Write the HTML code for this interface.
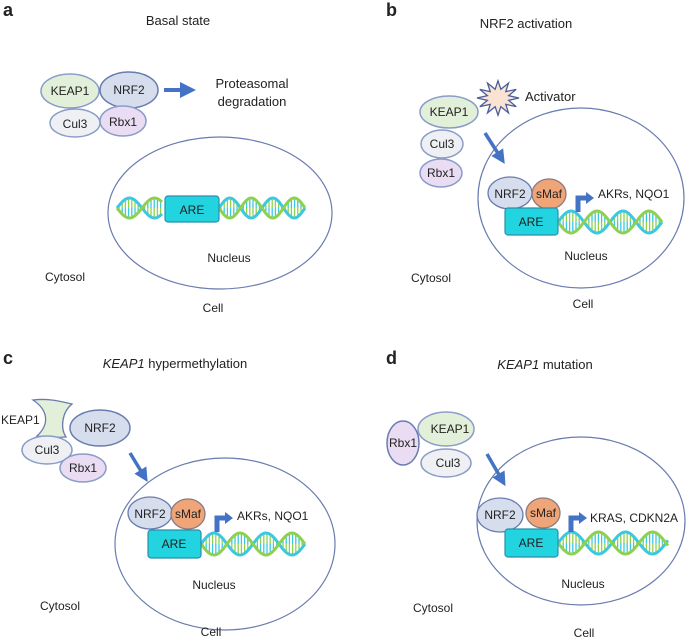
<!DOCTYPE html>
<html><head><meta charset="utf-8"><style>
body{margin:0;background:#fff}
svg{display:block;font-family:"Liberation Sans",Arial,sans-serif}
text{fill:#222}
</style></head><body>
<svg id="s" width="686" height="638" viewBox="0 0 686 638" xmlns="http://www.w3.org/2000/svg">
<defs>
<marker id="ah" markerWidth="4" markerHeight="4" refX="2" refY="2" orient="auto"><path d="M0,0L4,2L0,4Z" fill="#4472c4"/></marker>
</defs>
<!-- Panel A -->
<g>
<text x="3" y="16" font-size="18" font-weight="bold">a</text>
<text x="178" y="25" font-size="13" text-anchor="middle">Basal state</text>
<ellipse cx="220" cy="213" rx="112" ry="76" fill="#fff" stroke="#6a7bb0" stroke-width="1.2"/>
<ellipse cx="70" cy="91" rx="29" ry="17" fill="#e2efd9" stroke="#8a9cc8" stroke-width="1.5"/>
<ellipse cx="129" cy="90" rx="29" ry="18" fill="#d6deee" stroke="#6a7bb0" stroke-width="1.5"/>
<ellipse cx="75" cy="123" rx="25" ry="14" fill="#eef0f4" stroke="#8a9cc8" stroke-width="1.5"/>
<ellipse cx="123" cy="121" rx="23" ry="15" fill="#e9dcf3" stroke="#8a9cc8" stroke-width="1.5"/>
<text x="70" y="95" font-size="12" text-anchor="middle">KEAP1</text>
<text x="129" y="94" font-size="12" text-anchor="middle">NRF2</text>
<text x="75" y="128" font-size="12" text-anchor="middle">Cul3</text>
<text x="123" y="126" font-size="12" text-anchor="middle">Rbx1</text>
<line x1="164" y1="90" x2="188" y2="90" stroke="#4472c4" stroke-width="4" marker-end="url(#ah)"/>
<text x="252" y="88" font-size="13" text-anchor="middle">Proteasomal</text>
<text x="252" y="106" font-size="13" text-anchor="middle">degradation</text>
<g id="dnaA1"></g><g id="dnaA2"></g>
<rect x="165" y="196" width="54" height="26" rx="3" fill="#22d3e0" stroke="#2b8fa8" stroke-width="1.2"/>
<text x="192" y="214" font-size="12" text-anchor="middle">ARE</text>
<text x="229" y="262" font-size="12" text-anchor="middle">Nucleus</text>
<text x="65" y="281" font-size="12" text-anchor="middle">Cytosol</text>
<text x="213" y="312" font-size="12" text-anchor="middle">Cell</text>
</g>
<!-- Panel B -->
<g>
<text x="386" y="16" font-size="18" font-weight="bold">b</text>
<text x="526" y="28" font-size="13" text-anchor="middle">NRF2 activation</text>
<ellipse cx="581" cy="198" rx="103" ry="90" fill="#fff" stroke="#6a7bb0" stroke-width="1.2"/>
<path id="star" d="" fill="#fbe3d3" stroke="#4a5f9a" stroke-width="1.3"/>
<text x="525" y="101" font-size="13">Activator</text>
<ellipse cx="449" cy="112" rx="29" ry="16" fill="#e2efd9" stroke="#8a9cc8" stroke-width="1.5"/>
<ellipse cx="442" cy="144" rx="21" ry="14" fill="#eef0f4" stroke="#8a9cc8" stroke-width="1.5"/>
<ellipse cx="441" cy="173" rx="21" ry="14" fill="#e9dcf3" stroke="#8a9cc8" stroke-width="1.5"/>
<text x="449" y="116" font-size="12" text-anchor="middle">KEAP1</text>
<text x="442" y="148" font-size="12" text-anchor="middle">Cul3</text>
<text x="441" y="177" font-size="12" text-anchor="middle">Rbx1</text>
<line x1="485" y1="133" x2="501" y2="158" stroke="#4472c4" stroke-width="3.5" marker-end="url(#ah)"/>
<g id="dnaB"></g>
<ellipse cx="510" cy="193" rx="22" ry="16" fill="#d6deee" stroke="#6a7bb0" stroke-width="1.3"/>
<ellipse cx="549" cy="194" rx="17" ry="15" fill="#f0a578" stroke="#8a7a80" stroke-width="1.3"/>
<rect x="505" y="208" width="53" height="27" rx="3" fill="#22d3e0" stroke="#2b8fa8" stroke-width="1.2"/>
<text x="510" y="198" font-size="12" text-anchor="middle">NRF2</text>
<text x="549" y="198" font-size="12" text-anchor="middle">sMaf</text>
<text x="531" y="226" font-size="12" text-anchor="middle">ARE</text>
<path d="M578,212 V198 H587" fill="none" stroke="#4472c4" stroke-width="5"/><path d="M586,192 L594,198 L586,204Z" fill="#4472c4"/>
<text x="598" y="198" font-size="12">AKRs, NQO1</text>
<text x="586" y="260" font-size="12" text-anchor="middle">Nucleus</text>
<text x="431" y="282" font-size="12" text-anchor="middle">Cytosol</text>
<text x="583" y="308" font-size="12" text-anchor="middle">Cell</text>
</g>
<!-- Panel C -->
<g>
<text x="3" y="364" font-size="18" font-weight="bold">c</text>
<text x="175" y="368" font-size="13" text-anchor="middle"><tspan font-style="italic">KEAP1</tspan> hypermethylation</text>
<ellipse cx="225" cy="544" rx="110" ry="86" fill="#fff" stroke="#6a7bb0" stroke-width="1.2"/>
<path d="M33,400 C50,398 62,402 72,404 C62,412 60,428 66,437 C55,438 45,437 37,436 C50,424 48,410 33,400Z" fill="#e2efd9" stroke="#6a7bb0" stroke-width="1.3"/>
<text x="1" y="424" font-size="12">KEAP1</text>
<ellipse cx="100" cy="428" rx="30" ry="18" fill="#d6deee" stroke="#6a7bb0" stroke-width="1.5"/>
<ellipse cx="47" cy="450" rx="25" ry="14" fill="#eef0f4" stroke="#8a9cc8" stroke-width="1.5"/>
<ellipse cx="83" cy="468" rx="23" ry="14" fill="#e9dcf3" stroke="#8a9cc8" stroke-width="1.5"/>
<text x="100" y="432" font-size="12" text-anchor="middle">NRF2</text>
<text x="47" y="454" font-size="12" text-anchor="middle">Cul3</text>
<text x="83" y="472" font-size="12" text-anchor="middle">Rbx1</text>
<line x1="130" y1="453" x2="144" y2="476" stroke="#4472c4" stroke-width="3.5" marker-end="url(#ah)"/>
<g id="dnaC"></g>
<ellipse cx="150" cy="513" rx="22" ry="16" fill="#d6deee" stroke="#6a7bb0" stroke-width="1.3"/>
<ellipse cx="188" cy="514" rx="17" ry="15" fill="#f0a578" stroke="#8a7a80" stroke-width="1.3"/>
<rect x="148" y="530" width="53" height="28" rx="3" fill="#22d3e0" stroke="#2b8fa8" stroke-width="1.2"/>
<text x="150" y="518" font-size="12" text-anchor="middle">NRF2</text>
<text x="188" y="518" font-size="12" text-anchor="middle">sMaf</text>
<text x="174" y="548" font-size="12" text-anchor="middle">ARE</text>
<path d="M217,532 V518 H226" fill="none" stroke="#4472c4" stroke-width="5"/><path d="M225,512 L233,518 L225,524Z" fill="#4472c4"/>
<text x="237" y="520" font-size="12">AKRs, NQO1</text>
<text x="214" y="589" font-size="12" text-anchor="middle">Nucleus</text>
<text x="60" y="610" font-size="12" text-anchor="middle">Cytosol</text>
<text x="211" y="636" font-size="12" text-anchor="middle">Cell</text>
</g>
<!-- Panel D -->
<g>
<text x="386" y="364" font-size="18" font-weight="bold">d</text>
<text x="545" y="369" font-size="13" text-anchor="middle"><tspan font-style="italic">KEAP1</tspan> mutation</text>
<ellipse cx="581" cy="521" rx="104" ry="84" fill="#fff" stroke="#6a7bb0" stroke-width="1.2"/>
<ellipse cx="403" cy="443" rx="16" ry="22" fill="#e9dcf3" stroke="#6a7bb0" stroke-width="1.5"/>
<ellipse cx="446" cy="429" rx="28" ry="17" fill="#e2efd9" stroke="#8a9cc8" stroke-width="1.5"/>
<ellipse cx="446" cy="463" rx="25" ry="14" fill="#eef0f4" stroke="#8a9cc8" stroke-width="1.5"/>
<text x="403" y="447" font-size="12" text-anchor="middle">Rbx1</text>
<text x="450" y="433" font-size="12" text-anchor="middle">KEAP1</text>
<text x="448" y="467" font-size="12" text-anchor="middle">Cul3</text>
<line x1="487" y1="454" x2="502" y2="480" stroke="#4472c4" stroke-width="3.5" marker-end="url(#ah)"/>
<g id="dnaD"></g>
<ellipse cx="500" cy="515" rx="23" ry="17" fill="#d6deee" stroke="#6a7bb0" stroke-width="1.3"/>
<ellipse cx="543" cy="513" rx="17" ry="15" fill="#f0a578" stroke="#8a7a80" stroke-width="1.3"/>
<rect x="505" y="529" width="53" height="28" rx="3" fill="#22d3e0" stroke="#2b8fa8" stroke-width="1.2"/>
<text x="500" y="519" font-size="12" text-anchor="middle">NRF2</text>
<text x="543" y="517" font-size="12" text-anchor="middle">sMaf</text>
<text x="531" y="547" font-size="12" text-anchor="middle">ARE</text>
<path d="M571,532 V518 H580" fill="none" stroke="#4472c4" stroke-width="5"/><path d="M579,512 L587,518 L579,524Z" fill="#4472c4"/>
<text x="590" y="522" font-size="12">KRAS, CDKN2A</text>
<text x="583" y="588" font-size="12" text-anchor="middle">Nucleus</text>
<text x="433" y="612" font-size="12" text-anchor="middle">Cytosol</text>
<text x="584" y="637" font-size="12" text-anchor="middle">Cell</text>
</g>
</svg>
<script>
function helix(id,x0,x1,cy,A,P){
  var g=document.getElementById(id);
  
  
  var s='';
  for(var x=x0+2;x<x1;x+=3.2){
    var t=2*Math.PI*(x-x0)/P, y=A*Math.sin(t);
    s+='<line x1="'+x+'" y1="'+(cy-y)+'" x2="'+x+'" y2="'+cy+'" stroke="#8fd14f" stroke-width="1.3"/>';
    s+='<line x1="'+x+'" y1="'+cy+'" x2="'+x+'" y2="'+(cy+y)+'" stroke="#3cc8e0" stroke-width="1.3"/>';
  }
  var pg='',pc='';
  for(var x=x0;x<=x1;x+=1){
    var t=2*Math.PI*(x-x0)/P, y=A*Math.sin(t);
    pg+=(x==x0?'M':'L')+x+','+(cy+y);
    pc+=(x==x0?'M':'L')+x+','+(cy-y);
  }
  s+='<path d="'+pc+'" fill="none" stroke="#3cc8e0" stroke-width="3"/>';
  s+='<path d="'+pg+'" fill="none" stroke="#8fd14f" stroke-width="3"/>';
  g.innerHTML=s;
}
helix('dnaA1',117,162,208,10,50);
helix('dnaA2',219,305,208,10,43);
helix('dnaB',558,662,222,11,52);
helix('dnaC',201,305,544,11,52);
helix('dnaD',558,668,543,11,54);
var cx=498,cy=98,d='';
for(var i=0;i<24;i++){var r=i%2?11:21,a=i*Math.PI/12;d+=(i?'L':'M')+(cx+r*Math.cos(a))+','+(cy+r*Math.sin(a)*0.82);}
document.getElementById('star').setAttribute('d',d+'Z');
</script>
</body></html>
